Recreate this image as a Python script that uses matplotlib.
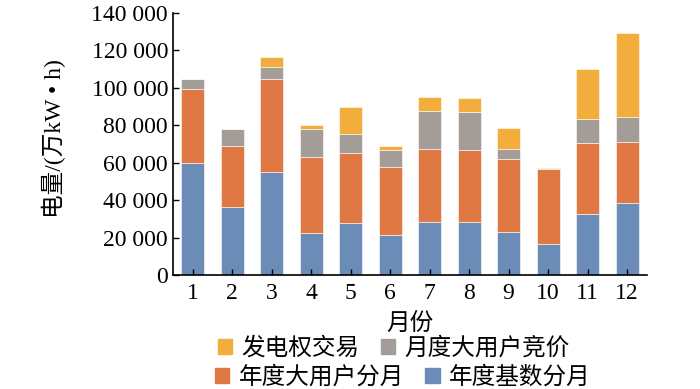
import numpy as np
import matplotlib
matplotlib.use("Agg")
import matplotlib.pyplot as plt
from matplotlib.ticker import FuncFormatter
from matplotlib.patches import Patch

plt.rcParams['font.family'] = ['Liberation Serif', 'Noto Sans CJK SC']

months = [str(m) for m in range(1, 13)]
# stacked components, in order from bottom to top
base_annual = [60000, 36200, 54900, 22300, 28000, 21600, 28500, 28500, 23200, 16800, 32600, 38500]
big_user_annual = [39200, 32800, 50100, 41000, 37300, 36000, 39100, 38400, 38700, 39600, 38000, 32500]
big_user_monthly = [5800, 8800, 6300, 14600, 10100, 9300, 20100, 20000, 5700, 0, 13000, 13200]
power_trade = [0, 0, 5200, 2200, 14300, 2300, 7500, 7800, 10700, 700, 26600, 45100]

series_names = ['年度基数分月', '年度大用户分月', '月度大用户竞价', '发电权交易']
colors = ['#6C8CB8', '#E07843', '#A39C97', '#F3AD3D']

fig = plt.figure(figsize=(7, 3.89), dpi=100)
ax = fig.add_axes([0.247, 0.293, 0.677, 0.6735])

x = np.arange(1, 13)
bottom = np.zeros(12)
for vals, c in zip([base_annual, big_user_annual, big_user_monthly, power_trade], colors):
    ax.bar(x, vals, width=0.58, bottom=bottom, color=c, edgecolor='white', linewidth=0.4)
    bottom += np.array(vals)

ax.set_xlim(0.5, 12.5)
ax.set_ylim(0, 140000)
ax.set_yticks(np.arange(0, 140001, 20000))
ax.yaxis.set_major_formatter(FuncFormatter(lambda v, p: f"{int(v):,}".replace(',', ' ')))
ax.set_xticks(x)
ax.set_xticklabels(months)
ax.tick_params(direction='in', labelsize=17, length=4, width=1)
ax.tick_params(axis='x', pad=6)
ax.spines['top'].set_visible(False)
ax.spines['right'].set_visible(False)
ax.spines['left'].set_linewidth(1.2)
ax.spines['bottom'].set_linewidth(1.2)

ax.set_ylabel('电量/(万kW • h)', fontsize=17)
ax.yaxis.set_label_coords(-0.225, 0.52)
ax.set_xlabel('月份', fontsize=17, labelpad=6)

h = {n: Patch(color=c) for n, c in zip(series_names, colors)}
row1 = ['发电权交易', '月度大用户竞价']
row2 = ['年度大用户分月', '年度基数分月']
for names, yc, xc in [(row1, 348, 394), (row2, 377, 403)]:
    fig.legend([h[n] for n in names], names, loc='center', ncol=2,
               bbox_to_anchor=(xc / 700, 1 - yc / 389), frameon=False,
               fontsize=17, handlelength=0.6, handleheight=0.6,
               handletextpad=0.4, columnspacing=0.9, borderpad=0, borderaxespad=0)

fig.savefig('out.png', dpi=100)
